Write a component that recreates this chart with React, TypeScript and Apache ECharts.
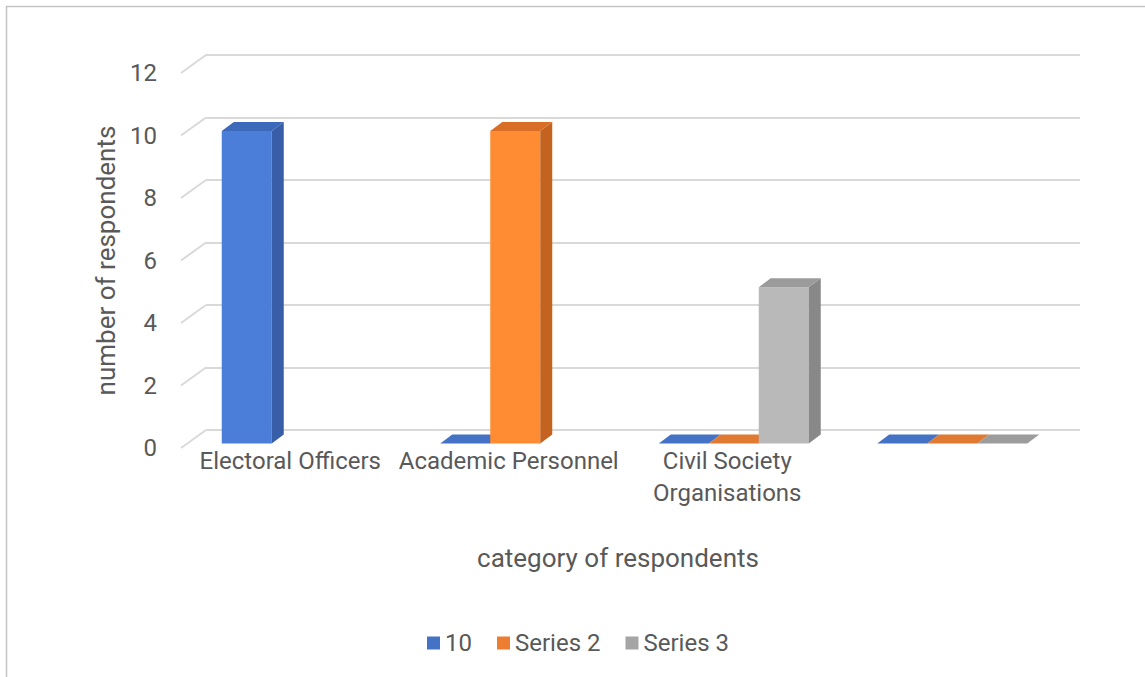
import React, { useEffect, useRef } from "react";
import * as echarts from "echarts";

const categories = ["Electoral Officers", "Academic Personnel", "Civil Society\nOrganisations", ""];
const seriesNames = ["10", "Series 2", "Series 3"];
const series1 = [10, 0, 0, 0];
const series2 = [null, 10, 0, 0];
const series3 = [null, null, 5, 0];
const yTicks = [0, 2, 4, 6, 8, 10, 12];
const yAxisTitle = "number of respondents";
const xAxisTitle = "category of respondents";

const legendColors = ["#4472C4", "#ED7D31", "#A5A5A5"];
const faceColors = [
  { front: "#4A7ED9", side: "#375EA6", top: "#3C69B9", flat: "#4472C4" },
  { front: "#FF8C33", side: "#C4621F", top: "#D96F26", flat: "#E07A30" },
  { front: "#B9B9B9", side: "#888888", top: "#9B9B9B", flat: "#9C9C9C" },
];

// depth geometry (pixels)
const FLOOR_DX = 25, FLOOR_DY = -18;
const BAR_OX = 6.5, BAR_OY = -4.5;
const BAR_DX = 12, BAR_DY = -9;
const BAR_FRAC = 50 / 218.5;
const FONT = "Roboto";
const TEXT = "#595959";
const GRID = "#D9D9D9";

export default function App() {
  const ref = useRef<HTMLDivElement>(null);
  useEffect(() => {
    document.body.style.margin = "0";
    const chart = echarts.init(ref.current!, null, { renderer: "svg" });
    const allSeries = [series1, series2, series3];

    const barSeries = allSeries.map((vals, k) => ({
      type: "custom",
      name: seriesNames[k],
      xAxisIndex: 0,
      yAxisIndex: 0,
      itemStyle: { color: legendColors[k] },
      data: vals
        .map((v, i) => (v === null ? null : [i, v]))
        .filter((d) => d !== null),
      renderItem: (params: any, api: any) => {
        const ci = api.value(0);
        const v = api.value(1);
        const base = api.coord([ci, 0]);
        const top = api.coord([ci, v]);
        const band = api.size([1, 0])[0];
        const bw = band * BAR_FRAC;
        const x0 = base[0] + (k - 1.5) * bw + BAR_OX;
        const y0 = base[1] + BAR_OY;
        const y1 = top[1] + BAR_OY;
        const c = faceColors[k];
        const children: any[] = [];
        if (y0 - y1 > 0.5) {
          children.push({
            type: "rect",
            shape: { x: x0, y: y1, width: bw, height: y0 - y1 },
            style: { fill: c.front },
          });
          children.push({
            type: "polygon",
            shape: {
              points: [
                [x0 + bw, y1],
                [x0 + bw + BAR_DX, y1 + BAR_DY],
                [x0 + bw + BAR_DX, y0 + BAR_DY],
                [x0 + bw, y0],
              ],
            },
            style: { fill: c.side },
          });
        }
        children.push({
          type: "polygon",
          shape: {
            points: [
              [x0, y1],
              [x0 + BAR_DX, y1 + BAR_DY],
              [x0 + bw + BAR_DX, y1 + BAR_DY],
              [x0 + bw, y1],
            ],
          },
          style: { fill: y0 - y1 > 0.5 ? c.top : c.flat },
        });
        return { type: "group", children };
      },
    }));

    const diagSeries = {
      type: "custom",
      name: "diag",
      xAxisIndex: 0,
      yAxisIndex: 0,
      silent: true,
      z: 1,
      data: yTicks.map((t) => [0, t]),
      renderItem: (params: any, api: any) => {
        const p = api.coord([0, api.value(1)]);
        const x = params.coordSys.x;
        return {
          type: "line",
          shape: { x1: x, y1: p[1], x2: x + FLOOR_DX, y2: p[1] + FLOOR_DY },
          style: { stroke: GRID, lineWidth: 2 },
        };
      },
    };

    chart.setOption({
      animation: false,
      backgroundColor: "#ffffff",
      textStyle: { fontFamily: FONT },
      graphic: [
        {
          type: "rect",
          shape: { x: 6.5, y: 6.5, width: 1300, height: 900 },
          style: { fill: "none", stroke: "#C4C4C4", lineWidth: 1.5 },
          silent: true,
        },
      ],
      legend: {
        data: seriesNames,
        left: 422,
        top: 626,
        icon: "rect",
        itemWidth: 13,
        itemHeight: 13,
        itemGap: 25,
        textStyle: { color: TEXT, fontSize: 24, fontFamily: FONT },
      },
      grid: [
        { left: 181, right: 90, top: 73, bottom: 229 },
        { left: 206, right: 65, top: 55, bottom: 247 },
      ],
      xAxis: [
        {
          type: "category",
          gridIndex: 0,
          data: categories,
          axisLine: { show: false },
          axisTick: { show: false },
          axisLabel: {
            color: TEXT,
            fontSize: 24,
            fontFamily: FONT,
            margin: -3,
            interval: 0,
            lineHeight: 32,
          },
          name: xAxisTitle,
          nameLocation: "middle",
          nameGap: 97,
          nameTextStyle: { color: TEXT, fontSize: 26, fontFamily: FONT },
        },
        {
          type: "category",
          gridIndex: 1,
          data: categories,
          show: false,
        },
      ],
      yAxis: [
        {
          type: "value",
          gridIndex: 0,
          min: 0,
          max: 12,
          interval: 2,
          axisLine: { show: false },
          axisTick: { show: false },
          splitLine: { show: false },
          axisLabel: { color: TEXT, fontSize: 24, fontFamily: FONT, margin: 24 },
          name: yAxisTitle,
          nameLocation: "middle",
          nameGap: 56,
          nameTextStyle: { color: TEXT, fontSize: 26, fontFamily: FONT },
        },
        {
          type: "value",
          gridIndex: 1,
          min: 0,
          max: 12,
          interval: 2,
          axisLine: { show: false },
          axisTick: { show: false },
          axisLabel: { show: false },
          splitLine: { show: true, lineStyle: { color: GRID, width: 2 } },
        },
      ],
      series: [diagSeries, ...barSeries],
    });
    return () => chart.dispose();
  }, []);
  return <div ref={ref} style={{ width: 1145, height: 677 }} />;
}
